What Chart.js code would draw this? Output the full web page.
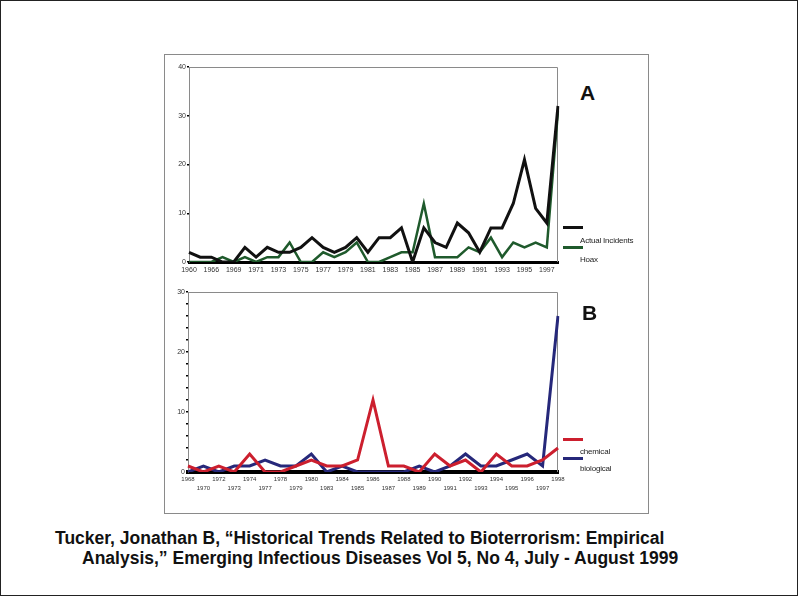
<!DOCTYPE html>
<html>
<head>
<meta charset="utf-8">
<script src="https://cdn.jsdelivr.net/npm/chart.js@4.4.1/dist/chart.umd.min.js"></script>
<style>
  html, body { margin: 0; padding: 0; background: #fff; }
  body { width: 798px; height: 596px; position: relative; overflow: hidden; font-family: "Liberation Sans", Arial, sans-serif; }
  #frame { position: absolute; left: 0; top: 0; width: 796px; height: 594px; border: 1px solid #222; }
  #panel { position: absolute; left: 164px; top: 54px; width: 483px; height: 458px; border: 1px solid #8a8a8a; }
  canvas { position: absolute; }
  .tag { position: absolute; font-weight: bold; font-size: 21px; color: #111; line-height: 1; }
  .leg { position: absolute; font-size: 8px; color: #222; line-height: 1; letter-spacing: -0.2px; }
  .sw { position: absolute; width: 20px; height: 3px; }
  .cap { position: absolute; font-weight: bold; font-size: 17.5px; color: #111; white-space: nowrap; line-height: 1; }
</style>
</head>
<body>
<div id="frame"></div>
<div id="panel"></div>
<canvas id="chartA" width="400" height="222" style="left:170px;top:60px"></canvas>
<canvas id="chartB" width="400" height="215" style="left:170px;top:285px"></canvas>

<div class="tag" style="left:580px;top:82px">A</div>
<div class="sw" style="left:563px;top:226px;background:#111"></div>
<div class="leg" style="left:580px;top:237px">Actual Incidents</div>
<div class="sw" style="left:563px;top:246px;background:#1f5a2c"></div>
<div class="leg" style="left:580px;top:256px">Hoax</div>

<div class="tag" style="left:582px;top:302px">B</div>
<div class="sw" style="left:563px;top:438px;background:#cc1f2e"></div>
<div class="leg" style="left:580px;top:448px">chemical</div>
<div class="sw" style="left:563px;top:457px;background:#26287a"></div>
<div class="leg" style="left:580px;top:465px">biological</div>

<div class="cap" style="left:55px;top:530px">Tucker, Jonathan B, “Historical Trends Related to Bioterrorism: Empirical</div>
<div class="cap" style="left:82px;top:550px">Analysis,” Emerging Infectious Diseases Vol 5, No 4, July - August 1999</div>

<script>
// panel A: actual vs hoax incidents per year
const yearsA = ["1960", "1965", "1966", "1968", "1969", "1970", "1971", "1972", "1973", "1974",
  "1975", "1976", "1977", "1978", "1979", "1980", "1981", "1982", "1983", "1984", "1985", "1986",
  "1987", "1988", "1989", "1990", "1991", "1992", "1993", "1994", "1995", "1996", "1997", "1998"];
const shownYearsA = ["1960", "1966", "1969", "1971", "1973", "1975", "1977", "1979", "1981", "1983",
  "1985", "1987", "1989", "1991", "1993", "1995", "1997"];
const actualIncidents = [2, 1, 1, 0, 0, 3, 1, 3, 2, 2, 3, 5, 3, 2, 3, 5, 2, 5, 5, 7, 0, 7, 4, 3, 8, 6, 2, 7, 7, 12, 21, 11, 8, 32];
const hoaxIncidents = [0, 0, 0, 1, 0, 1, 0, 1, 1, 4, 0, 0, 2, 1, 2, 4, 0, 0, 1, 2, 2, 12, 1, 1, 1, 3, 2, 5, 1, 4, 3, 4, 3, 31];

// panel B: chemical vs biological
const yearsB = ["1968", "1970", "1972", "1973", "1974", "1977", "1978", "1979", "1980", "1983", "1984",
  "1985", "1986", "1987", "1988", "1989", "1990", "1991", "1992", "1993", "1994", "1995", "1996", "1997", "1998"];
const chemical = [1, 0, 1, 0, 3, 0, 0, 1, 2, 1, 1, 2, 12, 1, 1, 0, 3, 1, 2, 0, 3, 1, 1, 2, 4];
const biological = [0, 1, 0, 1, 1, 2, 1, 1, 3, 0, 1, 0, 0, 0, 0, 1, 0, 1, 3, 1, 1, 2, 3, 1, 26];

// thin grey top + right edge of the plot box
const plotBox = {
  id: "plotBox",
  beforeDatasetsDraw(chart) {
    const { ctx, chartArea: a } = chart;
    ctx.save();
    ctx.strokeStyle = "#8a8a8a";
    ctx.lineWidth = 1;
    ctx.beginPath();
    ctx.moveTo(a.left, a.top + 0.5);
    ctx.lineTo(a.right - 0.5, a.top + 0.5);
    ctx.lineTo(a.right - 0.5, a.bottom);
    ctx.stroke();
    ctx.restore();
  }
};
Chart.register(plotBox);

const tickFont = { family: "'Liberation Sans', Arial, sans-serif", size: 7 };

function lineSet(label, data, color, width) {
  return { label, data, borderColor: color, backgroundColor: color, borderWidth: width,
    pointRadius: 0, tension: 0, borderJoinStyle: "miter" };
}

new Chart(document.getElementById("chartA"), {
  type: "line",
  data: {
    labels: yearsA,
    datasets: [
      lineSet("Actual Incidents", actualIncidents, "#111111", 3),
      lineSet("Hoax", hoaxIncidents, "#1f5a2c", 2.5),
    ],
  },
  options: {
    responsive: false,
    animation: false,
    layout: { padding: { top: 7, right: 12, left: 0, bottom: 0 } },
    plugins: { legend: { display: false }, tooltip: { enabled: false } },
    scales: {
      x: {
        offset: false,
        grid: { display: false, drawTicks: false },
        border: { color: "#000", width: 3 },
        ticks: {
          autoSkip: false, maxRotation: 0, padding: 4, color: "#333", font: tickFont,
          callback(v, i) { return shownYearsA.includes(yearsA[i]) ? yearsA[i] : ""; },
        },
        afterFit(s) { s.height = 20; },
      },
      y: {
        min: 0, max: 40,
        ticks: { stepSize: 10, padding: 1, color: "#333", font: tickFont },
        grid: { drawOnChartArea: false, tickLength: 2, color: "#000", lineWidth: 1.5 },
        border: { color: "#8a8a8a", width: 1 },
        afterFit(s) { s.width = 19; },
      },
    },
  },
});

new Chart(document.getElementById("chartB"), {
  type: "line",
  data: {
    labels: yearsB,
    datasets: [
      lineSet("chemical", chemical, "#cc1f2e", 3),
      lineSet("biological", biological, "#26287a", 3),
    ],
  },
  options: {
    responsive: false,
    animation: false,
    layout: { padding: { top: 7, right: 12, left: 0, bottom: 0 } },
    plugins: { legend: { display: false }, tooltip: { enabled: false } },
    scales: {
      x: {
        offset: false,
        grid: { display: false, drawTicks: false },
        border: { color: "#000", width: 4 },
        ticks: {
          autoSkip: false, maxRotation: 0, padding: 3, color: "#333",
          font: { family: tickFont.family, size: 6, lineHeight: 1.5 },
          // staggered two-row year labels
          callback(v, i) { return i % 2 === 0 ? [yearsB[i], ""] : ["", yearsB[i]]; },
        },
        afterFit(s) { s.height = 28; },
      },
      y: {
        min: 0, max: 30,
        ticks: {
          stepSize: 2, padding: 1, color: "#333", font: tickFont,
          callback(v) { return v % 10 === 0 ? v : ""; },
        },
        grid: { drawOnChartArea: false, tickLength: 2, color: "#000", lineWidth: 1.5 },
        border: { color: "#8a8a8a", width: 1 },
        afterFit(s) { s.width = 18; },
      },
    },
  },
});
</script>
</body>
</html>
